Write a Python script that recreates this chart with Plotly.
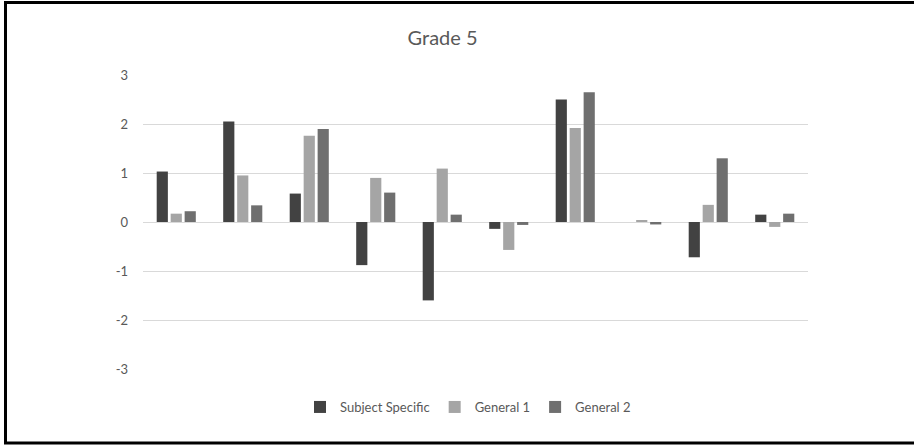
import plotly.graph_objects as go

categories = ["1", "2", "3", "4", "5", "6", "7", "8", "9", "10"]
subject_specific = [1.03, 2.05, 0.58, -0.88, -1.60, -0.14, 2.50, 0.0, -0.72, 0.15]
general_1 = [0.17, 0.95, 1.76, 0.90, 1.09, -0.57, 1.92, 0.03, 0.35, -0.10]
general_2 = [0.22, 0.34, 1.90, 0.60, 0.15, -0.06, 2.65, -0.05, 1.30, 0.17]
y_ticks = [-3, -2, -1, 0, 1, 2, 3]
y_tick_labels = ["-3", "-2", "-1", "0", "1", "2", "3"]

series = [
    ("Subject Specific", subject_specific, "#424242"),
    ("General 1", general_1, "#a5a5a5"),
    ("General 2", general_2, "#6f6f6f"),
]

fig = go.Figure()
for name, vals, col in series:
    fig.add_trace(go.Bar(x=categories, y=vals, name=name,
                         marker=dict(color=col, line=dict(width=0))))

L, R, T, B = 143, 106, 75, 76
W, H = 914, 445
pw, ph = W - L - R, H - T - B

def px_x(x):
    return (x - L) / pw

def px_y(y):
    return (H - B - y) / ph

shapes = [
    dict(type="line", xref="paper", yref="paper", x0=px_x(5.5), x1=px_x(5.5), y0=px_y(1), y1=px_y(444), line=dict(color="black", width=3)),
    dict(type="line", xref="paper", yref="paper", x0=px_x(4), x1=px_x(914), y0=px_y(2.5), y1=px_y(2.5), line=dict(color="black", width=3)),
    dict(type="line", xref="paper", yref="paper", x0=px_x(4), x1=px_x(914), y0=px_y(443), y1=px_y(443), line=dict(color="black", width=3)),
]

fig.update_layout(
    width=W, height=H,
    margin=dict(l=L, r=R, t=T, b=B),
    paper_bgcolor="white", plot_bgcolor="white",
    barmode="group", bargap=0.37, bargroupgap=0.2,
    title=dict(text="Grade 5", x=px_x(465), xanchor="center", y=1 - 38 / H, yanchor="middle",
               font=dict(family="Lato", size=20, color="#595959")),
    font=dict(family="Lato", size=13, color="#595959"),
    xaxis=dict(showticklabels=False, showgrid=False, zeroline=False, showline=False, ticks=""),
    yaxis=dict(range=[-3, 3], tickvals=y_ticks, ticktext=y_tick_labels, showgrid=True,
               gridcolor="#d9d9d9", gridwidth=1,
               zeroline=True, zerolinecolor="#d9d9d9", zerolinewidth=1, showline=False,
               ticks="", ticklabelstandoff=14, tickfont=dict(size=13, color="#595959")),
    legend=dict(orientation="h", x=px_x(468), xanchor="center", y=px_y(407), yanchor="middle",
                font=dict(size=13, color="#595959"), itemwidth=30, traceorder="normal"),
    shapes=shapes,
    showlegend=True,
)

fig.write_html("out.html", config={"displayModeBar": False},
               post_script="document.body.style.margin='0';document.body.style.overflow='hidden';")
